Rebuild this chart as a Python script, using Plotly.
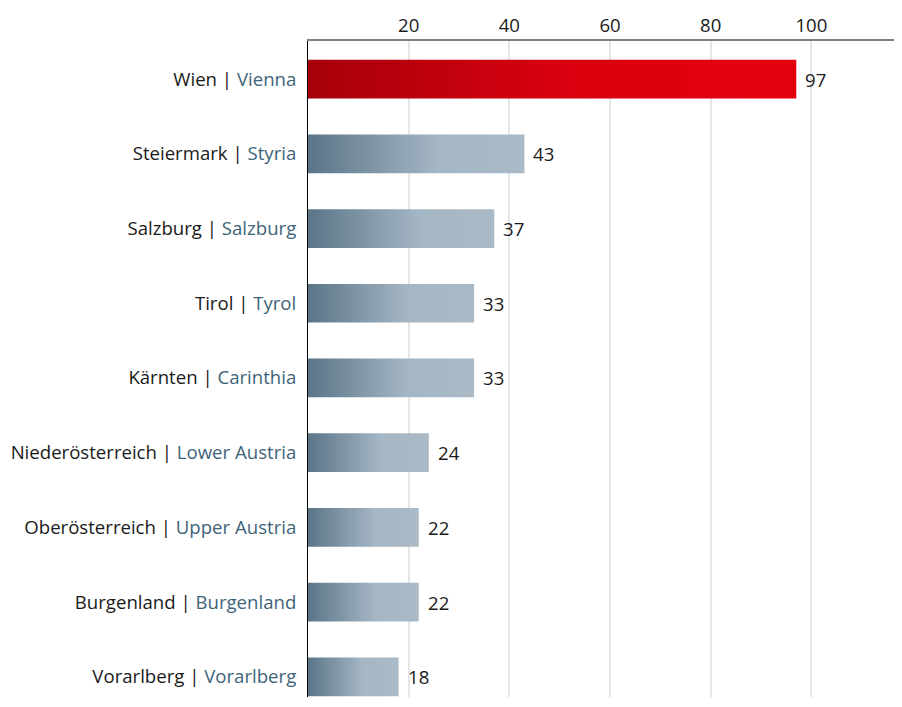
import plotly.graph_objects as go

regions_de = ["Wien", "Steiermark", "Salzburg", "Tirol", "Kärnten",
              "Niederösterreich", "Oberösterreich", "Burgenland", "Vorarlberg"]
regions_en = ["Vienna", "Styria", "Salzburg", "Tyrol", "Carinthia",
              "Lower Austria", "Upper Austria", "Burgenland", "Vorarlberg"]
values = [97, 43, 37, 33, 33, 24, 22, 22, 18]
x_ticks = [20, 40, 60, 80, 100]

FONT = "Open Sans"
FS = 18.6
HALF = 0.259

fig = go.Figure()
for i, v in enumerate(values):
    if i == 0:
        cs = [[0, "#a5000b"], [0.55, "#dc000f"], [1, "#e3000f"]]
    else:
        cs = [[0, "#5a7588"], [0.6, "#a5b6c4"], [1, "#aabac7"]]
    fig.add_trace(go.Scatter(
        x=[0, v, v, 0, 0],
        y=[i - HALF, i - HALF, i + HALF, i + HALF, i - HALF],
        mode="lines", line=dict(width=0), fill="toself",
        fillgradient=dict(type="horizontal", colorscale=cs, start=0, stop=v),
        hoverinfo="skip", showlegend=False,
    ))
    fig.add_annotation(x=v, y=i, text=str(v), showarrow=False,
                       xanchor="left", xshift=7,
                       font=dict(family=FONT, size=FS, color="#1a1a1a"))

ticktext = [f"{de} | <span style='color:#3e6479'>{en}</span>"
            for de, en in zip(regions_de, regions_en)]

fig.update_layout(
    width=894, height=689,
    margin=dict(l=300, r=0, t=33, b=0),
    paper_bgcolor="white", plot_bgcolor="white",
    font=dict(family=FONT, size=FS, color="#1a1a1a"),
    xaxis=dict(side="top", range=[0, 118], tickvals=x_ticks, automargin=False,
               showgrid=True, gridcolor="#e6e6e6", gridwidth=2,
               showline=True, linecolor="#808080", linewidth=2,
               zeroline=False, ticks="", tickfont=dict(size=FS)),
    yaxis=dict(range=[8.27, -0.51], tickvals=list(range(len(values))),
               ticktext=ticktext, showgrid=False, zeroline=False, automargin=False,
               showline=True, linecolor="#000000", linewidth=1,
               ticks="", ticklabelstandoff=7, tickfont=dict(size=FS)),
)

fig.write_html("out.html")
